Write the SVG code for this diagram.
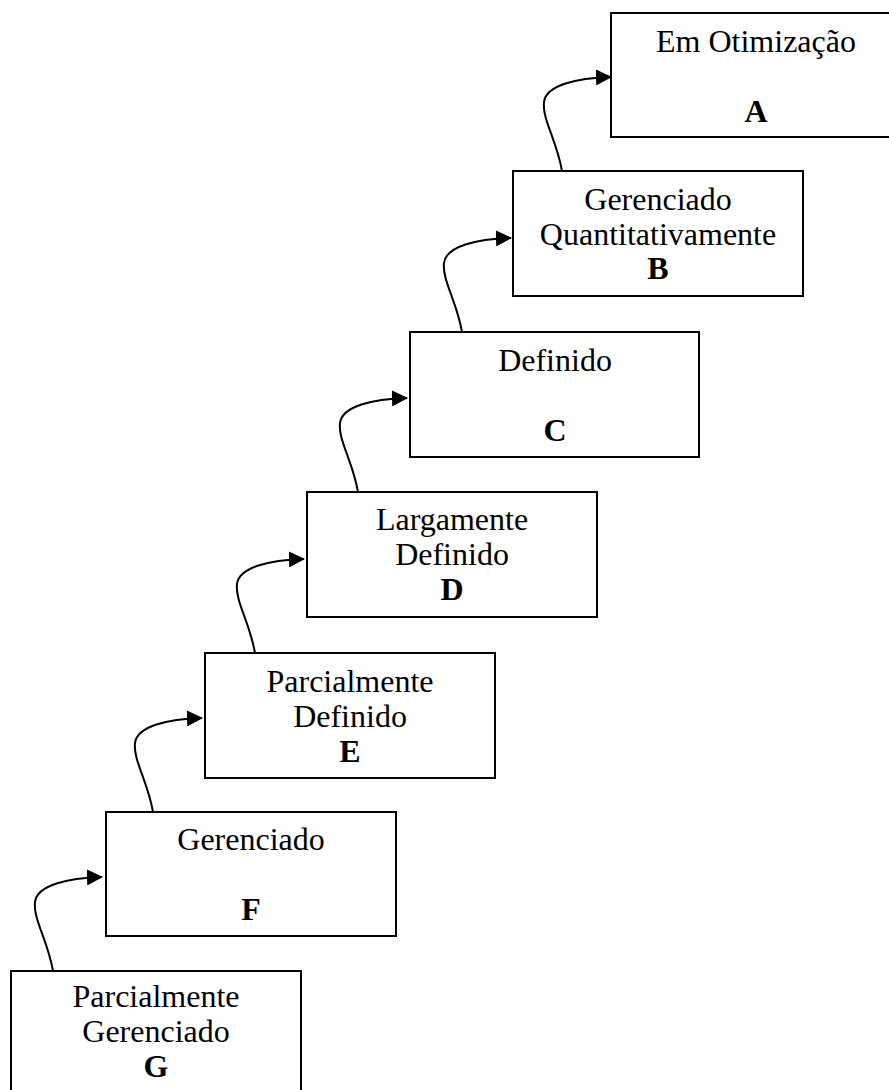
<svg xmlns="http://www.w3.org/2000/svg" width="889" height="1090" viewBox="0 0 889 1090">
  <style>
    .box { fill: #ffffff; stroke: #000000; stroke-width: 2; }
    .lbl { font-family: "Liberation Serif", "Times New Roman", serif; font-size: 32px; fill: #000000; text-anchor: middle; }
    .key { font-weight: bold; }
    .link { fill: none; stroke: #000000; stroke-width: 2; marker-end: url(#head); }
  </style>
  <defs>
    <marker id="head" viewBox="0 0 16 16" refX="15" refY="8" markerWidth="16" markerHeight="16" markerUnits="userSpaceOnUse" orient="auto">
      <path d="M0,0 L16,8 L0,16 Z" fill="#000000"/>
    </marker>
    <!-- one curved step connector, drawn from the top edge of the lower level -->
    <path id="step" d="M0,0 C-5,-30 -20,-52 -18,-69 S15,-93 49,-94"/>
  </defs>

  <g id="connectors">
    <use href="#step" class="link" x="53" y="971"/>
    <use href="#step" class="link" x="153" y="812"/>
    <use href="#step" class="link" x="255" y="653"/>
    <use href="#step" class="link" x="358" y="492"/>
    <use href="#step" class="link" x="462" y="332"/>
    <use href="#step" class="link" x="562" y="171"/>
  </g>

  <g id="node-A">
    <rect class="box" x="611" y="13" width="290" height="124"/>
    <text class="lbl" x="756" y="52">Em Otimização</text>
    <text class="lbl key" x="756" y="122">A</text>
  </g>

  <g id="node-B">
    <rect class="box" x="513" y="171" width="290" height="125"/>
    <text class="lbl" x="658" y="210">Gerenciado</text>
    <text class="lbl" x="658" y="245">Quantitativamente</text>
    <text class="lbl key" x="658" y="279">B</text>
  </g>

  <g id="node-C">
    <rect class="box" x="410" y="332" width="289" height="125"/>
    <text class="lbl" x="555" y="371">Definido</text>
    <text class="lbl key" x="555" y="441">C</text>
  </g>

  <g id="node-D">
    <rect class="box" x="307" y="492" width="290" height="125"/>
    <text class="lbl" x="452" y="530">Largamente</text>
    <text class="lbl" x="452" y="565">Definido</text>
    <text class="lbl key" x="452" y="600">D</text>
  </g>

  <g id="node-E">
    <rect class="box" x="205" y="653" width="290" height="125"/>
    <text class="lbl" x="350" y="692">Parcialmente</text>
    <text class="lbl" x="350" y="727">Definido</text>
    <text class="lbl key" x="350" y="762">E</text>
  </g>

  <g id="node-F">
    <rect class="box" x="106" y="812" width="290" height="124"/>
    <text class="lbl" x="251" y="850">Gerenciado</text>
    <text class="lbl key" x="251" y="920">F</text>
  </g>

  <g id="node-G">
    <rect class="box" x="11" y="971" width="290" height="125"/>
    <text class="lbl" x="156" y="1007">Parcialmente</text>
    <text class="lbl" x="156" y="1042">Gerenciado</text>
    <text class="lbl key" x="156" y="1077">G</text>
  </g>
</svg>
